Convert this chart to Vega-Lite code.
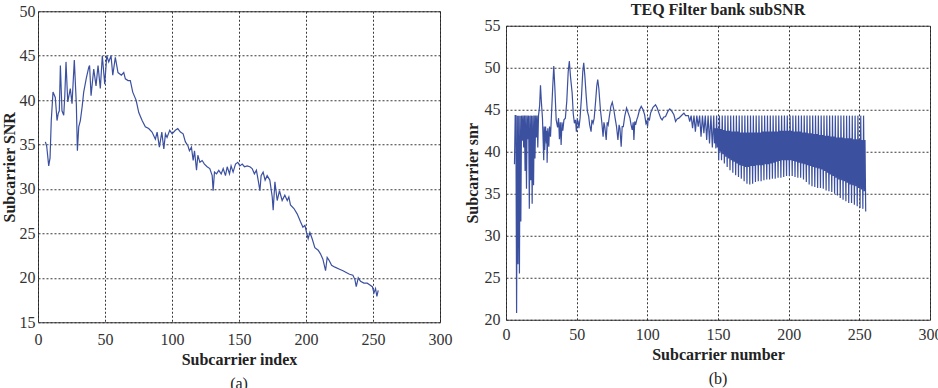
{
"$schema": "https://vega.github.io/schema/vega-lite/v6.json",
"padding": {"left": 0, "top": 1, "right": 0, "bottom": 0},
"background": "white",
"config": {
  "font": "Liberation Serif",
  "view": {"stroke": "#444", "strokeWidth": 1},
  "axis": {"grid": true, "gridColor": "#222", "gridDash": [2, 2], "gridOpacity": 0.9, "gridWidth": 1, "domain": false, "ticks": false, "labelFont": "Liberation Serif", "labelFontSize": 16, "labelColor": "#333", "titleFont": "Liberation Serif", "titleFontSize": 16, "titleFontWeight": "bold", "titleColor": "#222", "labelFlush": false},
  "title": {"font": "Liberation Serif", "fontSize": 16, "fontWeight": "bold", "color": "#222"}
},
"center": true,
"spacing": 10,
"hconcat": [
  {
    "title": {"text": ["(a)", ""], "lineHeight": 10, "orient": "bottom", "anchor": "middle", "frame": "group", "dx": 201, "fontWeight": "normal", "offset": 8},
    "vconcat": [
      {
    "width": 402, "height": 311,
    "data": {"values": [
{"x":5.5,"y":35.3},{"x":6.5,"y":34.8},{"x":8.0,"y":32.6},{"x":9.0,"y":33.5},{"x":9.9,"y":37.7},{"x":11.2,"y":40.9},{"x":12.9,"y":40.3},{"x":14.2,"y":37.7},{"x":15.1,"y":38.5},{"x":15.9,"y":38.8},{"x":16.7,"y":43.9},{"x":17.9,"y":38.8},{"x":19.2,"y":38.3},{"x":20.0,"y":40.5},{"x":20.9,"y":44.3},{"x":22.2,"y":39.8},{"x":24.1,"y":41.3},{"x":25.4,"y":39.6},{"x":27.1,"y":44.5},{"x":28.6,"y":39.6},{"x":29.4,"y":34.3},{"x":30.4,"y":37.0},{"x":31.6,"y":37.7},{"x":32.9,"y":39.2},{"x":34.1,"y":40.9},{"x":36.1,"y":42.5},{"x":37.9,"y":43.7},{"x":38.5,"y":43.9},{"x":39.6,"y":40.5},{"x":41.6,"y":43.5},{"x":43.3,"y":41.6},{"x":44.8,"y":43.9},{"x":46.5,"y":41.3},{"x":48.0,"y":45.0},{"x":49.8,"y":41.8},{"x":51.3,"y":45.0},{"x":52.8,"y":44.3},{"x":54.5,"y":45.0},{"x":55.8,"y":42.8},{"x":57.7,"y":44.8},{"x":59.7,"y":43.1},{"x":62.2,"y":42.8},{"x":64.0,"y":43.1},{"x":65.2,"y":42.4},{"x":67.2,"y":42.2},{"x":68.9,"y":42.2},{"x":70.7,"y":40.9},{"x":73.2,"y":40.0},{"x":75.2,"y":38.6},{"x":77.7,"y":37.7},{"x":80.1,"y":37.0},{"x":82.6,"y":36.8},{"x":85.1,"y":36.4},{"x":87.6,"y":35.6},{"x":88.9,"y":36.4},{"x":90.6,"y":34.7},{"x":92.4,"y":36.4},{"x":93.9,"y":34.5},{"x":95.1,"y":36.2},{"x":96.3,"y":35.8},{"x":98.3,"y":36.6},{"x":100.1,"y":36.2},{"x":102.5,"y":36.6},{"x":104.3,"y":36.8},{"x":106.3,"y":36.4},{"x":108.3,"y":36.2},{"x":110.0,"y":35.3},{"x":111.8,"y":34.9},{"x":113.0,"y":34.3},{"x":114.5,"y":34.7},{"x":115.8,"y":33.2},{"x":116.8,"y":34.3},{"x":118.3,"y":32.1},{"x":119.3,"y":33.8},{"x":120.8,"y":33.0},{"x":122.5,"y":33.2},{"x":124.2,"y":32.8},{"x":126.2,"y":32.5},{"x":128.2,"y":32.3},{"x":130.0,"y":31.5},{"x":130.7,"y":29.8},{"x":131.7,"y":31.9},{"x":133.2,"y":31.7},{"x":134.9,"y":32.1},{"x":136.7,"y":31.7},{"x":138.2,"y":32.3},{"x":139.9,"y":31.5},{"x":141.2,"y":32.5},{"x":142.9,"y":31.7},{"x":144.1,"y":32.6},{"x":145.6,"y":31.9},{"x":147.4,"y":32.8},{"x":149.1,"y":33.0},{"x":150.6,"y":32.6},{"x":152.4,"y":32.8},{"x":154.1,"y":32.5},{"x":156.1,"y":32.6},{"x":158.1,"y":32.5},{"x":159.8,"y":32.3},{"x":161.5,"y":31.7},{"x":163.0,"y":32.1},{"x":164.3,"y":31.0},{"x":165.6,"y":29.8},{"x":166.5,"y":31.5},{"x":168.0,"y":31.9},{"x":169.5,"y":31.0},{"x":171.0,"y":31.5},{"x":173.0,"y":31.0},{"x":174.8,"y":29.1},{"x":175.5,"y":27.6},{"x":176.8,"y":30.8},{"x":178.5,"y":28.7},{"x":180.2,"y":29.8},{"x":182.2,"y":28.7},{"x":184.2,"y":29.3},{"x":186.0,"y":28.7},{"x":187.2,"y":29.1},{"x":188.4,"y":28.2},{"x":191.0,"y":27.8},{"x":193.4,"y":27.2},{"x":195.9,"y":26.3},{"x":197.7,"y":25.7},{"x":199.2,"y":25.9},{"x":200.4,"y":25.1},{"x":201.6,"y":24.4},{"x":202.9,"y":25.1},{"x":204.6,"y":24.4},{"x":206.6,"y":23.4},{"x":209.1,"y":23.1},{"x":210.8,"y":22.7},{"x":212.6,"y":22.1},{"x":214.6,"y":20.8},{"x":215.8,"y":22.3},{"x":217.1,"y":22.0},{"x":219.1,"y":21.4},{"x":221.6,"y":21.2},{"x":224.6,"y":21.0},{"x":227.6,"y":20.8},{"x":230.0,"y":20.6},{"x":232.5,"y":20.4},{"x":235.0,"y":20.3},{"x":236.5,"y":19.8},{"x":237.5,"y":19.0},{"x":239.0,"y":20.0},{"x":240.7,"y":19.6},{"x":243.2,"y":19.4},{"x":245.7,"y":19.4},{"x":247.7,"y":19.2},{"x":249.5,"y":19.0},{"x":250.7,"y":18.3},{"x":251.9,"y":18.8},{"x":252.9,"y":17.9},{"x":253.9,"y":18.6}
    ]},
    "mark": {"type": "line", "color": "#3C50A0", "strokeWidth": 1.2},
    "encoding": {
      "x": {"field": "x", "type": "quantitative", "scale": {"domain": [0, 300]}, "axis": {"values": [0, 50, 100, 150, 200, 250, 300], "title": "Subcarrier index", "labelPadding": 9, "titlePadding": 4}},
      "y": {"field": "y", "type": "quantitative", "scale": {"domain": [15, 50]}, "axis": {"values": [15, 20, 25, 30, 35, 40, 45, 50], "title": "Subcarrier SNR", "labelPadding": 3, "titlePadding": 2}}
    }
      }
    ]
  },
  {
    "title": {"text": "(b)", "orient": "bottom", "anchor": "middle", "frame": "group", "dx": 212, "fontWeight": "normal", "offset": 8},
    "vconcat": [
      {
        "title": {"text": "TEQ Filter bank subSNR", "offset": 0},
        "width": 424, "height": 294,
        "data": {"values": [
{"x":6,"y":38.5},{"x":6.5,"y":44.3},{"x":7,"y":44.3},{"x":7.5,"y":20.8},{"x":8,"y":44.3},{"x":8.5,"y":26.6},{"x":9,"y":44.3},{"x":9.5,"y":25.5},{"x":10,"y":44.3},{"x":10.5,"y":31.7},{"x":11,"y":44.3},{"x":11.5,"y":41.3},{"x":12,"y":44.3},{"x":12.5,"y":40.5},{"x":13,"y":44.3},{"x":13.5,"y":37.7},{"x":14,"y":44.3},{"x":14.5,"y":35.6},{"x":15,"y":44.3},{"x":15.5,"y":41.5},{"x":16,"y":44.3},{"x":16.5,"y":33.2},{"x":17,"y":44.3},{"x":17.5,"y":36.6},{"x":18,"y":44.3},{"x":18.5,"y":33.8},{"x":19,"y":44.3},{"x":19.5,"y":36.0},{"x":20,"y":44.3},{"x":20.5,"y":39.2},{"x":21,"y":44.3},{"x":21.5,"y":41.7},{"x":22,"y":44.3},{"x":22.5,"y":40.5},{"x":23,"y":44.3},
{"x":23.8,"y":45.5},{"x":24.4,"y":47.9},{"x":25.0,"y":46.0},{"x":25.8,"y":44.0},{"x":26.7,"y":39.0},{"x":27.0,"y":43.0},{"x":27.4,"y":40.2},{"x":28.0,"y":43.0},{"x":28.6,"y":41.0},{"x":28.9,"y":42.5},{"x":29.1,"y":38.7},{"x":29.6,"y":42.8},{"x":30.3,"y":40.6},{"x":30.8,"y":43.0},{"x":31.5,"y":41.8},{"x":32.2,"y":44.5},{"x":33.0,"y":47.5},{"x":33.8,"y":50.2},{"x":34.6,"y":47.5},{"x":35.5,"y":43.8},{"x":36.5,"y":42.9},{"x":37.2,"y":44.0},{"x":37.8,"y":41.5},{"x":38.4,"y":43.5},{"x":39.0,"y":40.8},{"x":39.6,"y":43.5},{"x":40.2,"y":42.5},{"x":41.0,"y":43.8},{"x":42.0,"y":44.0},{"x":43.0,"y":46.0},{"x":44.0,"y":49.5},{"x":44.8,"y":50.8},{"x":45.6,"y":49.0},{"x":46.8,"y":47.0},{"x":47.6,"y":44.5},{"x":48.4,"y":43.4},{"x":49.2,"y":43.8},{"x":49.8,"y":42.4},{"x":50.4,"y":43.8},{"x":51.0,"y":43.6},{"x":51.6,"y":42.8},{"x":52.4,"y":44.0},{"x":53.4,"y":46.5},{"x":54.3,"y":49.5},{"x":55.0,"y":50.6},{"x":55.8,"y":49.0},{"x":56.8,"y":46.5},{"x":57.6,"y":44.8},{"x":58.5,"y":44.2},{"x":59.2,"y":43.2},{"x":60.2,"y":42.4},{"x":60.8,"y":43.8},{"x":61.6,"y":43.4},{"x":62.4,"y":44.0},{"x":63.4,"y":46.0},{"x":64.2,"y":47.8},{"x":64.9,"y":48.6},{"x":65.7,"y":47.5},{"x":66.8,"y":45.0},{"x":67.8,"y":43.5},{"x":68.7,"y":41.8},{"x":69.3,"y":43.5},{"x":69.9,"y":43.0},{"x":70.9,"y":41.4},{"x":71.6,"y":43.5},{"x":72.3,"y":43.2},{"x":73.2,"y":44.3},{"x":74.2,"y":45.4},{"x":75.2,"y":45.9},{"x":76.3,"y":45.0},{"x":77.2,"y":44.0},{"x":78.2,"y":43.0},{"x":79.2,"y":41.4},{"x":80.0,"y":43.2},{"x":80.6,"y":42.8},{"x":81.5,"y":40.6},{"x":82.2,"y":43.0},{"x":83.0,"y":43.0},{"x":84.0,"y":44.2},{"x":85.3,"y":45.2},{"x":86.5,"y":44.6},{"x":87.7,"y":44.0},{"x":88.5,"y":43.2},{"x":89.3,"y":42.6},{"x":90.0,"y":43.5},{"x":90.5,"y":41.4},{"x":91.1,"y":43.6},{"x":91.7,"y":43.2},{"x":92.5,"y":43.8},{"x":93.3,"y":44.2},{"x":94.5,"y":45.0},{"x":95.7,"y":45.4},{"x":97.0,"y":45.0},{"x":98.1,"y":44.4},{"x":99.0,"y":43.4},{"x":99.5,"y":43.6},{"x":100.2,"y":43.0},{"x":100.6,"y":44.0},{"x":101.5,"y":43.8},{"x":102.3,"y":44.6},{"x":104.0,"y":45.3},{"x":105.8,"y":45.6},{"x":107.0,"y":45.2},{"x":108.2,"y":44.6},{"x":109.5,"y":44.0},{"x":110.5,"y":43.8},{"x":111.5,"y":44.1},{"x":112.9,"y":44.2},{"x":114.5,"y":44.8},{"x":115.9,"y":45.1},{"x":117.4,"y":44.8},{"x":118.8,"y":44.4},{"x":120.0,"y":43.6},{"x":121.1,"y":43.9},{"x":122.3,"y":44.0},{"x":123.5,"y":44.2},{"x":124.7,"y":44.4},{"x":125.9,"y":44.6},{"x":127.1,"y":44.3},{"x":128.3,"y":44.3},
{"x":129,"y":44.3},{"x":130,"y":43.6},{"x":131,"y":44.3},{"x":132,"y":42.8},{"x":133,"y":44.3},{"x":134,"y":42.4},{"x":135,"y":44.3},{"x":136,"y":43.0},{"x":137,"y":44.3},{"x":138,"y":41.8},{"x":139,"y":44.3},{"x":140,"y":42.2},{"x":141,"y":44.3},{"x":142,"y":41.4},{"x":143,"y":44.3},{"x":144,"y":41.0},{"x":145,"y":44.3},{"x":146,"y":40.5},
{"x":147,"y":44.3},{"x":147.5,"y":41.0},{"x":148,"y":42.8},{"x":148.5,"y":40.4},
{"x":149,"y":44.3},{"x":149.5,"y":40.5},{"x":150,"y":42.8},{"x":150.5,"y":39.0},
{"x":151,"y":44.3},{"x":151.5,"y":40.0},{"x":152,"y":42.7},{"x":152.5,"y":39.0},
{"x":153,"y":44.3},{"x":153.5,"y":39.7},{"x":154,"y":42.6},{"x":154.5,"y":38.6},
{"x":155,"y":44.3},{"x":155.5,"y":39.4},{"x":156,"y":42.5},{"x":156.5,"y":38.2},
{"x":157,"y":44.3},{"x":157.5,"y":39.2},{"x":158,"y":42.5},{"x":158.5,"y":37.8},
{"x":159,"y":44.3},{"x":159.5,"y":39.0},{"x":160,"y":42.4},{"x":160.5,"y":37.5},
{"x":161,"y":44.3},{"x":161.5,"y":38.8},{"x":162,"y":42.4},{"x":162.5,"y":37.2},
{"x":163,"y":44.3},{"x":163.5,"y":38.6},{"x":164,"y":42.4},{"x":164.5,"y":37.0},
{"x":165,"y":44.3},{"x":165.5,"y":38.4},{"x":166,"y":42.3},{"x":166.5,"y":36.8},
{"x":167,"y":44.3},{"x":167.5,"y":38.3},{"x":168,"y":42.3},{"x":168.5,"y":36.5},
{"x":169,"y":44.3},{"x":169.5,"y":38.2},{"x":170,"y":42.3},{"x":170.5,"y":36.2},
{"x":171,"y":44.3},{"x":171.5,"y":38.2},{"x":172,"y":42.3},{"x":172.5,"y":36.1},
{"x":173,"y":44.3},{"x":173.5,"y":38.3},{"x":174,"y":42.3},{"x":174.5,"y":36.2},
{"x":175,"y":44.3},{"x":175.5,"y":38.3},{"x":176,"y":42.3},{"x":176.5,"y":36.4},
{"x":177,"y":44.3},{"x":177.5,"y":38.4},{"x":178,"y":42.3},{"x":178.5,"y":36.5},
{"x":179,"y":44.3},{"x":179.5,"y":38.4},{"x":180,"y":42.3},{"x":180.5,"y":36.5},
{"x":181,"y":44.3},{"x":181.5,"y":38.4},{"x":182,"y":42.4},{"x":182.5,"y":36.6},
{"x":183,"y":44.3},{"x":183.5,"y":38.5},{"x":184,"y":42.4},{"x":184.5,"y":36.7},
{"x":185,"y":44.3},{"x":185.5,"y":38.5},{"x":186,"y":42.4},{"x":186.5,"y":36.7},
{"x":187,"y":44.3},{"x":187.5,"y":38.6},{"x":188,"y":42.4},{"x":188.5,"y":36.8},
{"x":189,"y":44.3},{"x":189.5,"y":38.7},{"x":190,"y":42.4},{"x":190.5,"y":36.8},
{"x":191,"y":44.3},{"x":191.5,"y":38.8},{"x":192,"y":42.4},{"x":192.5,"y":36.9},
{"x":193,"y":44.3},{"x":193.5,"y":38.9},{"x":194,"y":42.5},{"x":194.5,"y":36.9},
{"x":195,"y":44.3},{"x":195.5,"y":39.0},{"x":196,"y":42.5},{"x":196.5,"y":37.0},
{"x":197,"y":44.3},{"x":197.5,"y":39.0},{"x":198,"y":42.5},{"x":198.5,"y":37.1},
{"x":199,"y":44.3},{"x":199.5,"y":39.0},{"x":200,"y":42.5},{"x":200.5,"y":37.1},
{"x":201,"y":44.3},{"x":201.5,"y":39.0},{"x":202,"y":42.5},{"x":202.5,"y":37.1},
{"x":203,"y":44.3},{"x":203.5,"y":38.9},{"x":204,"y":42.4},{"x":204.5,"y":37.0},
{"x":205,"y":44.3},{"x":205.5,"y":38.8},{"x":206,"y":42.4},{"x":206.5,"y":36.9},
{"x":207,"y":44.3},{"x":207.5,"y":38.7},{"x":208,"y":42.4},{"x":208.5,"y":36.9},
{"x":209,"y":44.3},{"x":209.5,"y":38.6},{"x":210,"y":42.3},{"x":210.5,"y":36.7},
{"x":211,"y":44.3},{"x":211.5,"y":38.5},{"x":212,"y":42.3},{"x":212.5,"y":36.4},
{"x":213,"y":44.3},{"x":213.5,"y":38.4},{"x":214,"y":42.2},{"x":214.5,"y":36.1},
{"x":215,"y":44.3},{"x":215.5,"y":38.3},{"x":216,"y":42.2},{"x":216.5,"y":35.9},
{"x":217,"y":44.3},{"x":217.5,"y":38.2},{"x":218,"y":42.1},{"x":218.5,"y":35.8},
{"x":219,"y":44.3},{"x":219.5,"y":38.1},{"x":220,"y":42.1},{"x":220.5,"y":35.7},
{"x":221,"y":44.3},{"x":221.5,"y":38.0},{"x":222,"y":42.0},{"x":222.5,"y":35.7},
{"x":223,"y":44.3},{"x":223.5,"y":37.9},{"x":224,"y":42.0},{"x":224.5,"y":35.6},
{"x":225,"y":44.3},{"x":225.5,"y":37.7},{"x":226,"y":41.9},{"x":226.5,"y":35.4},
{"x":227,"y":44.3},{"x":227.5,"y":37.5},{"x":228,"y":41.9},{"x":228.5,"y":35.3},
{"x":229,"y":44.3},{"x":229.5,"y":37.3},{"x":230,"y":41.8},{"x":230.5,"y":35.2},
{"x":231,"y":44.3},{"x":231.5,"y":37.1},{"x":232,"y":41.8},{"x":232.5,"y":35.0},
{"x":233,"y":44.3},{"x":233.5,"y":36.9},{"x":234,"y":41.7},{"x":234.5,"y":34.8},
{"x":235,"y":44.3},{"x":235.5,"y":36.7},{"x":236,"y":41.7},{"x":236.5,"y":34.5},
{"x":237,"y":44.3},{"x":237.5,"y":36.6},{"x":238,"y":41.7},{"x":238.5,"y":34.3},
{"x":239,"y":44.3},{"x":239.5,"y":36.5},{"x":240,"y":41.6},{"x":240.5,"y":34.1},
{"x":241,"y":44.3},{"x":241.5,"y":36.3},{"x":242,"y":41.6},{"x":242.5,"y":33.9},
{"x":243,"y":44.3},{"x":243.5,"y":36.1},{"x":244,"y":41.6},{"x":244.5,"y":33.9},
{"x":245,"y":44.3},{"x":245.5,"y":36.0},{"x":246,"y":41.5},{"x":246.5,"y":33.7},
{"x":247,"y":44.3},{"x":247.5,"y":35.9},{"x":248,"y":41.5},{"x":248.5,"y":33.5},
{"x":249,"y":44.3},{"x":249.5,"y":35.7},{"x":250,"y":41.5},{"x":250.5,"y":33.3},
{"x":251,"y":44.3},{"x":251.5,"y":35.5},{"x":252,"y":41.4},{"x":252.5,"y":33.2},
{"x":253,"y":44.3},{"x":253.5,"y":35.3},{"x":254,"y":41.4},{"x":254.5,"y":32.9}
        ]},
        "mark": {"type": "line", "color": "#3C50A0", "strokeWidth": 1.2},
        "encoding": {
          "x": {"field": "x", "type": "quantitative", "scale": {"domain": [0, 300]}, "axis": {"values": [0, 50, 100, 150, 200, 250, 300], "title": "Subcarrier number", "labelPadding": 7, "titlePadding": 4}},
          "y": {"field": "y", "type": "quantitative", "scale": {"domain": [20, 55]}, "axis": {"values": [20, 25, 30, 35, 40, 45, 50, 55], "title": "Subcarrier snr", "labelPadding": 6, "titlePadding": 4}}
        }
      }
    ]
  }
]
}
